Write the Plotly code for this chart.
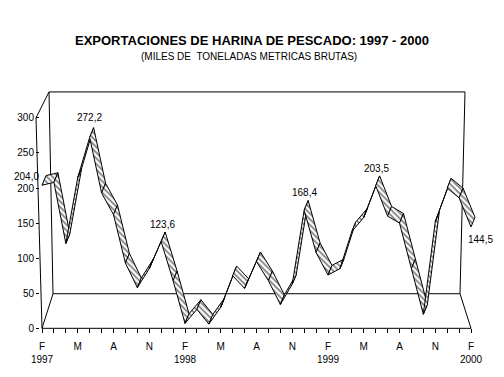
import plotly.graph_objects as go

# ---------------- data ----------------
years = ["1997", "1998", "1999", "2000"]
tick_letters = ["F", "M", "A", "N"]  # shown every 3 months
values = [204.0, 208, 121, 215, 272.2, 193, 162, 93, 58, 85, 123.6, 68,
          7, 27, 6, 30, 75, 57, 95, 68, 34, 63, 168.4, 108,
          76, 85, 138, 158, 203.5, 160, 150, 85, 20, 152, 200, 186,
          144.5]
label_idx = [0, 4, 10, 22, 28, 36]
y_ticks = [0, 50, 100, 150, 200, 250, 300]

title = "EXPORTACIONES DE HARINA DE PESCADO: 1997 - 2000"
subtitle = "(MILES DE  TONELADAS METRICAS BRUTAS)"

# ---------------- geometry ----------------
W, H = 504, 377
L, R, T, B = 28, 490, 90, 346          # plot area in px
X0PX, X1PX = 42, 471                    # index 0 / last index
Y0PX, Y300PX = 338, 119                 # value 0 / 300
n = len(values)
pxm = (X1PX - X0PX) / (n - 1)
pxv = (Y0PX - Y300PX) / 300.0
xr = [(L - X0PX) / pxm, (R - X0PX) / pxm]
yr = [(Y0PX - B) / pxv, (Y0PX - T) / pxv]


def px(x):
    return (x - L) / (R - L)


def py(y):
    return (B - y) / (B - T)


FONT = "Arial, Liberation Sans, sans-serif"

# ribbon depth offset (px -> data units)
dx = 4 / pxm
dy = 10 / pxv

fig = go.Figure()

for i in range(n - 1):
    fig.add_trace(go.Scatter(
        x=[i, i + 1, i + 1 + dx, i + dx, i],
        y=[values[i], values[i + 1], values[i + 1] + dy, values[i] + dy, values[i]],
        mode="lines", fill="toself", fillcolor="white",
        fillpattern=dict(shape="\\", fgcolor="black", bgcolor="white", size=4, solidity=0.45),
        line=dict(color="black", width=1), hoverinfo="skip", showlegend=False,
    ))

# tick labels
tickvals = list(range(n))
ticktext = []
for i in range(n):
    if i % 3 == 0:
        lt = tick_letters[(i // 3) % 4]
        if i % 12 == 0:
            ticktext.append(lt + "<br>" + years[i // 12])
        else:
            ticktext.append(lt)
    else:
        ticktext.append("")


def fmt(v):
    return f"{v:.1f}".replace(".", ",")


shifts = {0: (-16, 9), 4: (0, 20), 10: (1, 17), 22: (0, 18), 28: (1, 17), 36: (9, -13)}
annotations = []
for i in label_idx:
    sx, sy = shifts[i]
    annotations.append(dict(x=i, y=values[i], xref="x", yref="y", text=fmt(values[i]),
                            showarrow=False, xshift=sx, yshift=sy,
                            xanchor="center", yanchor="middle",
                            font=dict(family=FONT, size=10, color="black")))

annotations.append(dict(x=px(252), y=py(38), xref="paper", yref="paper", text="<b>" + title + "</b>",
                        showarrow=False, xanchor="center", yanchor="middle",
                        font=dict(family=FONT, size=13, color="black")))
annotations.append(dict(x=px(249), y=py(55), xref="paper", yref="paper", text=subtitle,
                        showarrow=False, xanchor="center", yanchor="middle",
                        font=dict(family=FONT, size=10, color="black")))

# 3D box lines (pixel coords)
box = [
    ((36, 119), (42, 338)),
    ((36, 119), (49, 92)),
    ((49, 92), (53, 302)),
    ((49, 92), (465, 92)),
    ((465, 92), (460, 302)),
    ((53, 302), (460, 302)),
    ((42, 338), (53, 302)),
    ((460, 302), (471, 338)),
    ((42, 338), (471, 338)),
]
shapes = []
for (a, b) in box:
    shapes.append(dict(type="line", xref="paper", yref="paper",
                       x0=px(a[0]), y0=py(a[1]), x1=px(b[0]), y1=py(b[1]),
                       line=dict(color="black", width=1), layer="below"))

fig.update_layout(
    width=W, height=H,
    margin=dict(l=L, r=W - R, t=T, b=H - B),
    paper_bgcolor="white", plot_bgcolor="white",
    showlegend=False,
    font=dict(family=FONT, size=10, color="black"),
    xaxis=dict(range=xr, anchor="free", position=py(338), showgrid=False, zeroline=False,
               showline=False, ticks="outside", ticklen=4, tickcolor="black",
               ticklabelstandoff=5,
               tickvals=tickvals, ticktext=ticktext, tickangle=0,
               tickfont=dict(family=FONT, size=10, color="black")),
    yaxis=dict(range=yr, anchor="free", position=px(39), showgrid=False, zeroline=False,
               showline=False, ticks="outside", ticklen=3, tickcolor="black",
               tickvals=y_ticks, tickfont=dict(family=FONT, size=10, color="black")),
    shapes=shapes,
    annotations=annotations,
)

fig.write_html("out.html", config={"displayModeBar": False},
               post_script="document.body.style.margin='0';document.body.style.overflow='hidden';")
